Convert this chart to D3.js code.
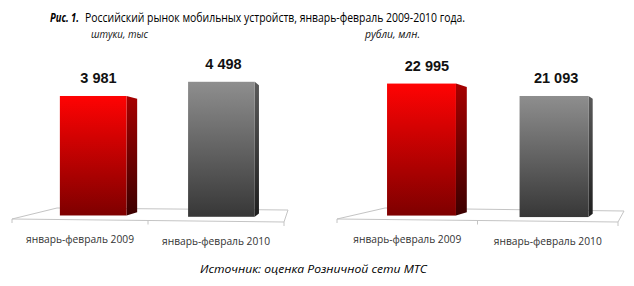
<!DOCTYPE html>
<html><head><meta charset="utf-8">
<script src="https://cdn.jsdelivr.net/npm/d3@7"></script>
<style>
html,body{margin:0;padding:0;background:#fff;}
svg{display:block;}
</style></head>
<body>
<svg id="chart" width="634" height="286"></svg>
<script>
// ---- data ----
const categories = ["январь-февраль 2009", "январь-февраль 2010"];
const unitsValues = [3981, 4498];      // штуки, тыс
const rublesValues = [22995, 21093];   // рубли, млн.
const panelUnits = ["штуки, тыс", "рубли, млн."];
const titleBold = "Рис. 1.";
const titleText = "Российский рынок мобильных устройств, январь-февраль 2009-2010 года.";
const sourceText = "Источник: оценка Розничной сети МТС";

// ---- layout ----
const svg = d3.select("#chart");
const fmt = d3.formatLocale({thousands: " ", grouping: [3], decimal: ",", currency: ["", ""]}).format(",d");

const panels = [
  {values: unitsValues, unit: panelUnits[0], unitX: 91, unitW: 57,
   fL: [12, 219], fR: [284, 222], bL: [57, 208], bR: [288, 210], vp: [339, 150], hMax: 135},
  {values: rublesValues, unit: panelUnits[1], unitX: 365, unitW: 55,
   fL: [337, 219], fR: [618, 222], bL: [385, 208], bR: [624, 211], vp: [673, 150], hMax: 132}
];

const defs = svg.append("defs");
function grad(id, c0, c1) {
  const g = defs.append("linearGradient").attr("id", id).attr("x1", 0).attr("y1", 0).attr("x2", 0).attr("y2", 1);
  g.append("stop").attr("offset", "0%").attr("stop-color", c0);
  g.append("stop").attr("offset", "100%").attr("stop-color", c1);
}
grad("front0", "#ff0303", "#7e0000");
grad("side0", "#a60000", "#3c0000");
grad("front1", "#8e8e8e", "#373737");
grad("side1", "#5a5a5a", "#1e1e1e");

const lerp = (a, b, t) => a + (b - a) * t;
const depth = 0.38;
const sideF = 0.05;

// ---- title ----
svg.append("text").attr("x", 50).attr("y", 22).attr("font-family", "'Open Sans', sans-serif")
  .attr("font-size", 12.5).attr("fill", "#000").attr("font-weight", "bold").attr("font-style", "italic")
  .attr("textLength", 29).attr("lengthAdjust", "spacingAndGlyphs").text(titleBold);
svg.append("text").attr("x", 85).attr("y", 22).attr("font-family", "'Open Sans', sans-serif")
  .attr("font-size", 12.5).attr("fill", "#000")
  .attr("textLength", 380).attr("lengthAdjust", "spacingAndGlyphs").text(titleText);

svg.append("text").attr("x", 200).attr("y", 273).attr("font-family", "'Open Sans', sans-serif")
  .attr("font-size", 11.5).attr("font-style", "italic").attr("fill", "#000")
  .attr("textLength", 227).attr("lengthAdjust", "spacingAndGlyphs").text(sourceText);

panels.forEach(p => {
  const g = svg.append("g");
  const x = d3.scaleBand().domain(categories).range([0, 1]).paddingInner(0.48).paddingOuter(0.24);
  const h = d3.scaleLinear().domain([0, d3.max(p.values)]).range([0, p.hMax]);
  const proj = (u, t) => {
    const fx = lerp(p.fL[0], p.fR[0], u), fy = lerp(p.fL[1], p.fR[1], u);
    const bx = lerp(p.bL[0], p.bR[0], u), by = lerp(p.bL[1], p.bR[1], u);
    return [lerp(fx, bx, t), lerp(fy, by, t)];
  };

  // unit label
  g.append("text").attr("x", p.unitX).attr("y", 38).attr("font-family", "'Open Sans', sans-serif")
    .attr("font-size", 11).attr("font-style", "italic").attr("fill", "#111")
    .attr("textLength", p.unitW).attr("lengthAdjust", "spacingAndGlyphs").text(p.unit);

  // floor
  const floor = [p.fL, p.fR, p.bR, p.bL];
  g.append("polygon").attr("points", floor.map(d => d.join(",")).join(" "))
    .attr("fill", "none").attr("stroke", "#c4c4c4").attr("stroke-width", 1);
  // ticks
  [0, 0.5, 1].forEach(u => {
    const [tx, ty] = proj(u, 0);
    g.append("line").attr("x1", tx).attr("x2", tx).attr("y1", ty).attr("y2", ty + 4)
      .attr("stroke", "#c4c4c4").attr("stroke-width", 1);
  });

  categories.forEach((c, i) => {
    const v = p.values[i];
    const u0 = x(c), u1 = x(c) + x.bandwidth();
    const x0 = proj(u0, depth)[0], x1 = proj(u1, depth)[0];
    const bot = proj((u0 + u1) / 2, depth)[1];
    const top = bot - h(v);
    const sw = sideF * (p.vp[0] - x1);
    const f = sw / (p.vp[0] - x1);
    const side = [[x1, top], [x1 + sw, top + f * (p.vp[1] - top)], [x1 + sw, bot + f * (p.vp[1] - bot)], [x1, bot]];
    g.append("polygon").attr("points", side.map(d => d.join(",")).join(" ")).attr("fill", `url(#side${i})`);
    g.append("rect").attr("x", x0).attr("y", top).attr("width", x1 - x0).attr("height", bot - top)
      .attr("fill", `url(#front${i})`);
    g.append("text").attr("x", (x0 + x1) / 2 + sw / 2).attr("y", top - 13).attr("text-anchor", "middle")
      .attr("font-family", "'Liberation Sans', Arial, sans-serif").attr("font-weight", "bold")
      .attr("font-size", 14.5).attr("fill", "#111").text(fmt(v));
    // category label
    const [lx, ly] = proj(i === 0 ? 0.25 : 0.75, 0);
    g.append("text").attr("x", lx).attr("y", ly + 23.5).attr("text-anchor", "middle")
      .attr("font-family", "'Open Sans', sans-serif").attr("font-size", 11).attr("fill", "#333")
      .attr("textLength", 108).attr("lengthAdjust", "spacingAndGlyphs").text(c);
  });
});
</script>
</body></html>
